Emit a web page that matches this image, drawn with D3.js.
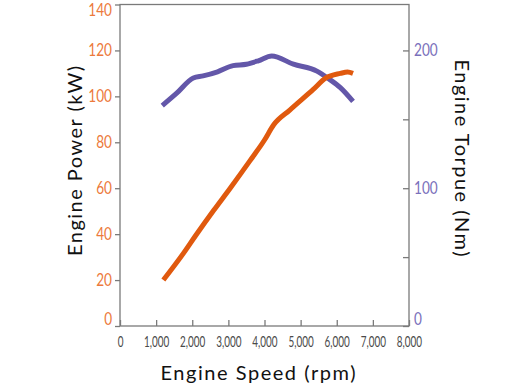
<!DOCTYPE html>
<html>
<head>
<meta charset="utf-8">
<script src="https://cdn.jsdelivr.net/npm/d3@7"></script>
<style>
  body { margin: 0; background: #fff; }
  svg { display: block; }
</style>
</head>
<body>
<svg id="chart" width="530" height="386"></svg>
<script>
// ---- data ----
const rpmTicks = [0, 1000, 2000, 3000, 4000, 5000, 6000, 7000, 8000];
const powerTicks = [0, 20, 40, 60, 80, 100, 120, 140];
const torqueTicks = [0, 50, 100, 150, 200];
const torqueLabelled = [0, 100, 200];

const powerRpm = [1200, 1750, 2100, 2600, 3050, 3600, 4000, 4250, 4700, 5350, 5700, 6100, 6300, 6450];
const powerKw  = [20, 31.5, 39.5, 50.5, 60, 72, 81, 87.5, 94, 103, 108, 110, 110.6, 110];

const torqueRpm = [1170, 1570, 2030, 2300, 2700, 3130, 3500, 3830, 4200, 4800, 5450, 5800, 6100, 6450];
const torqueNm  = [160, 169, 180, 181.5, 184.5, 189, 190, 192.5, 196, 190, 185, 179, 173, 163];

const xTitle = "Engine Speed (rpm)";
const yLeftTitle = "Engine Power (kW)";
const yRightTitle = "Engine Torpue (Nm)";

// ---- layout ----
const L = 120, R = 409, T = 4.5, B = 326;
const svg = d3.select("#chart");

const x = d3.scaleLinear().domain([0, 8000]).range([L, R]);
const yP = d3.scaleLinear().domain([0, 140]).range([B, T]);
const yT = d3.scaleLinear().domain([0, 140 / 0.6]).range([B, T]);

const frameColor = "#7a7a7a";
const orange = "#e0590e", orangeLbl = "#ec7a3c";
const purple = "#6357a9", purpleLbl = "#7a70bb";
const tickFont = "Lato, 'Noto Sans', sans-serif";

// narrow the tick labels horizontally (the original uses a condensed face)
function narrow(sel, k) {
  sel.each(function () {
    const t = d3.select(this);
    const x0 = +t.attr("x") || 0;
    t.attr("x", x0 / k).attr("transform", `scale(${k},1)`);
  });
}

// frame
svg.append("rect")
  .attr("x", L).attr("y", T).attr("width", R - L).attr("height", B - T)
  .attr("fill", "none").attr("stroke", frameColor).attr("stroke-width", 1.3);

// bottom axis
const gx = svg.append("g").attr("transform", `translate(0,${B})`)
  .call(d3.axisBottom(x).tickValues(rpmTicks).tickSize(-6).tickPadding(10)
    .tickFormat(d3.format(",")));
gx.select(".domain").remove();
gx.selectAll(".tick line").attr("stroke", frameColor).attr("stroke-width", 1.3);
gx.selectAll(".tick text")
  .attr("fill", "#4a4a4a")
  .style("font-family", tickFont)
  .style("font-size", "15.5px")
  .call(narrow, 0.64);

// left axis
const gl = svg.append("g").attr("transform", `translate(${L},0)`)
  .call(d3.axisLeft(yP).tickValues(powerTicks).tickSize(5).tickPadding(3));
gl.select(".domain").remove();
gl.selectAll(".tick line").attr("stroke", frameColor).attr("stroke-width", 1.3);
gl.selectAll(".tick text")
  .attr("fill", orangeLbl)
  .attr("dy", d => d === 0 ? "-0.1em" : d === 140 ? "0.62em" : "0.32em")
  .style("font-family", tickFont)
  .style("font-size", "17px")
  .call(narrow, 0.8);

// right axis
const gr = svg.append("g").attr("transform", `translate(${R},0)`)
  .call(d3.axisRight(yT).tickValues(torqueTicks).tickSize(-6).tickPadding(5)
    .tickFormat(d => torqueLabelled.includes(d) ? d : ""));
gr.select(".domain").remove();
gr.selectAll(".tick line").attr("stroke", frameColor).attr("stroke-width", 1.3);
gr.selectAll(".tick text")
  .attr("fill", purpleLbl)
  .attr("dy", d => d === 0 ? "-0.1em" : "0.32em")
  .style("font-family", tickFont)
  .style("font-size", "17px")
  .call(narrow, 0.8);

// lines
const torqueData = torqueRpm.map((r, i) => [r, torqueNm[i]]);
const powerData = powerRpm.map((r, i) => [r, powerKw[i]]);

svg.append("path")
  .datum(torqueData)
  .attr("fill", "none").attr("stroke", purple).attr("stroke-width", 5)
  .attr("d", d3.line().x(d => x(d[0])).y(d => yT(d[1])).curve(d3.curveMonotoneX));

svg.append("path")
  .datum(powerData)
  .attr("fill", "none").attr("stroke", orange).attr("stroke-width", 5)
  .attr("d", d3.line().x(d => x(d[0])).y(d => yP(d[1])).curve(d3.curveMonotoneX));

// titles
const titleFont = "Lato, 'Noto Sans', sans-serif";
svg.append("text")
  .attr("x", 258).attr("y", 380)
  .attr("text-anchor", "middle")
  .attr("textLength", 195).attr("lengthAdjust", "spacing")
  .style("font-family", titleFont).style("font-size", "20px").attr("fill", "#111")
  .text(xTitle);

svg.append("text")
  .attr("transform", "translate(82,161) rotate(-90)")
  .attr("text-anchor", "middle")
  .attr("textLength", 190).attr("lengthAdjust", "spacing")
  .style("font-family", titleFont).style("font-size", "20px").attr("fill", "#111")
  .text(yLeftTitle);

svg.append("text")
  .attr("transform", "translate(455,158) rotate(90)")
  .attr("text-anchor", "middle")
  .attr("textLength", 197).attr("lengthAdjust", "spacing")
  .style("font-family", titleFont).style("font-size", "20px").attr("fill", "#111")
  .text(yRightTitle);
</script>
</body>
</html>
